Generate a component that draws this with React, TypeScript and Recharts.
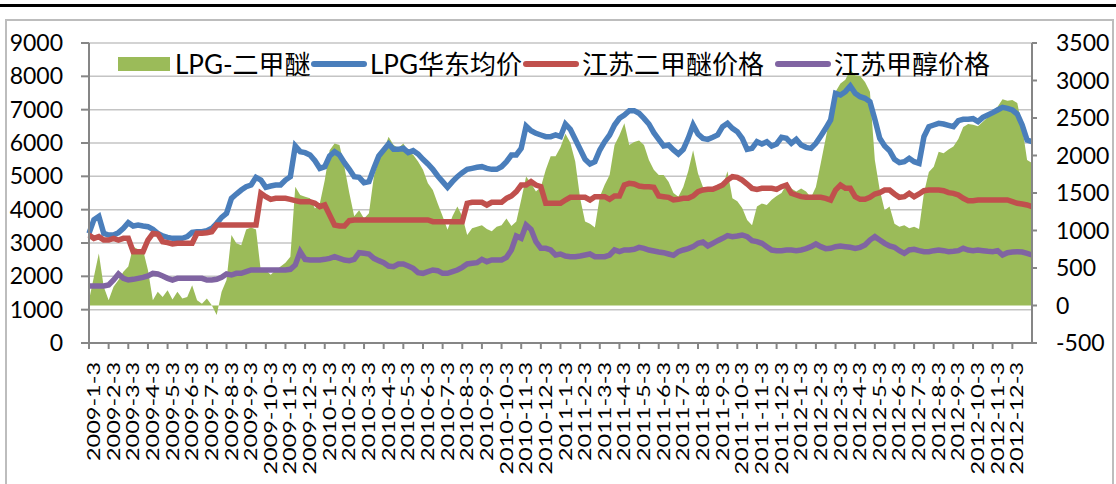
import React from "react";
import { ComposedChart, Area, Line, XAxis, YAxis, CartesianGrid, Legend } from "recharts";

// month labels on the x axis (one per 4 weekly points)
const monthLabels = [
  "2009-1-3", "2009-2-3", "2009-3-3", "2009-4-3", "2009-5-3", "2009-6-3", "2009-7-3", "2009-8-3", "2009-9-3", "2009-10-3", "2009-11-3", "2009-12-3",
  "2010-1-3", "2010-2-3", "2010-3-3", "2010-4-3", "2010-5-3", "2010-6-3", "2010-7-3", "2010-8-3", "2010-9-3", "2010-10-3", "2010-11-3", "2010-12-3",
  "2011-1-3", "2011-2-3", "2011-3-3", "2011-4-3", "2011-5-3", "2011-6-3", "2011-7-3", "2011-8-3", "2011-9-3", "2011-10-3", "2011-11-3", "2011-12-3",
  "2012-1-3", "2012-2-3", "2012-3-3", "2012-4-3", "2012-5-3", "2012-6-3", "2012-7-3", "2012-8-3", "2012-9-3", "2012-10-3", "2012-11-3", "2012-12-3",
];

const seriesNames = ["LPG-二甲醚", "LPG华东均价", "江苏二甲醚价格", "江苏甲醇价格"];

// LPG华东均价 (left axis)
const lpgEast = [
  3290, 3700, 3800, 3290, 3240, 3240, 3310, 3440, 3610, 3510, 3540, 3510, 3490, 3410, 3290, 3210,
  3170, 3140, 3140, 3140, 3190, 3320, 3340, 3340, 3370, 3440, 3590, 3770, 3890, 4340, 4470, 4590,
  4690, 4740, 4970, 4890, 4670, 4710, 4740, 4740, 4890, 4990, 5910, 5740, 5710, 5640, 5470, 5240,
  5290, 5610, 5740, 5640, 5410, 5210, 4990, 4970, 4810, 4840, 5240, 5610, 5790, 5970, 5810, 5810,
  5840, 5710, 5770, 5670, 5510, 5370, 5210, 5010, 4840, 4670, 4840, 4990, 5110, 5210, 5240, 5270,
  5290, 5240, 5210, 5210, 5290, 5440, 5640, 5640, 5840, 6510, 6370, 6290, 6240, 6190, 6190, 6240,
  6190, 6570, 6410, 6110, 5810, 5510, 5370, 5440, 5790, 6040, 6240, 6540, 6740, 6840, 6970, 6970,
  6890, 6740, 6570, 6310, 6110, 5910, 5940, 5790, 5670, 5810, 6140, 6540, 6270, 6140, 6110, 6170,
  6240, 6490, 6590, 6440, 6340, 6140, 5810, 5840, 6040, 5970, 6040, 5910, 5970, 6170, 6140, 5990,
  6110, 5940, 5870, 5840, 5990, 6210, 6440, 6690, 7490, 7440, 7540, 7710, 7490, 7390, 7340, 7240,
  6710, 6140, 5910, 5770, 5510, 5410, 5440, 5540, 5440, 5390, 6190, 6490, 6540, 6590, 6570, 6530,
  6490, 6670, 6710, 6710, 6730, 6640, 6770, 6840, 6910, 6990, 7070, 7040, 6990, 6870, 6540, 6090,
  6040,
];

// 江苏二甲醚价格 (left axis)
const dmeJiangsu = [
  3240, 3140, 3190, 3090, 3090, 3140, 3090, 3140, 3140, 2740, 2740, 2740, 3090, 3290, 3270, 3040,
  3010, 2970, 2990, 2990, 2990, 2990, 3290, 3290, 3310, 3340, 3540, 3540, 3540, 3540, 3540, 3540,
  3540, 3540, 3540, 4490, 4390, 4310, 4340, 4340, 4340, 4310, 4270, 4240, 4240, 4240, 4190, 4090,
  4140, 3840, 3540, 3510, 3510, 3670, 3690, 3690, 3690, 3690, 3690, 3690, 3690, 3690, 3690, 3690,
  3690, 3690, 3690, 3690, 3690, 3690, 3640, 3640, 3640, 3640, 3640, 3640, 3640, 4190, 4220, 4220,
  4220, 4140, 4220, 4220, 4220, 4340, 4410, 4540, 4740, 4740, 4840, 4740, 4690, 4190, 4190, 4190,
  4190, 4290, 4370, 4370, 4370, 4370, 4290, 4390, 4390, 4390, 4310, 4410, 4410, 4740, 4790, 4770,
  4710, 4690, 4690, 4670, 4410, 4390, 4370, 4290, 4310, 4340, 4340, 4410, 4540, 4590, 4610, 4610,
  4670, 4740, 4890, 4990, 4970, 4890, 4770, 4640, 4610, 4640, 4640, 4640, 4610, 4690, 4740, 4490,
  4440, 4390, 4370, 4370, 4370, 4370, 4340, 4290, 4590, 4740, 4640, 4640, 4390, 4310, 4310, 4370,
  4470, 4510, 4590, 4590, 4470, 4370, 4390, 4490, 4390, 4470, 4570, 4590, 4590, 4590, 4570, 4510,
  4490, 4440, 4340, 4270, 4270, 4290, 4290, 4290, 4290, 4290, 4290, 4290, 4240, 4190, 4170, 4140,
  4090,
];

// 江苏甲醇价格 (left axis)
const methanolJiangsu = [
  1710, 1710, 1710, 1710, 1740, 1890, 2070, 1940, 1890, 1910, 1940, 1970, 2010, 2090, 2070, 2010,
  1940, 1890, 1940, 1940, 1940, 1940, 1940, 1940, 1890, 1890, 1910, 1970, 2070, 2040, 2090, 2090,
  2140, 2190, 2190, 2190, 2190, 2190, 2190, 2190, 2190, 2210, 2340, 2740, 2510, 2490, 2490, 2490,
  2510, 2540, 2590, 2540, 2490, 2470, 2510, 2710, 2690, 2670, 2540, 2470, 2410, 2310, 2290, 2370,
  2370, 2310, 2240, 2110, 2090, 2140, 2190, 2170, 2090, 2090, 2140, 2190, 2270, 2370, 2390, 2410,
  2510, 2440, 2490, 2490, 2490, 2570, 2790, 3210, 3140, 3540, 3410, 3040, 2840, 2840, 2790, 2640,
  2670, 2610, 2590, 2590, 2610, 2640, 2670, 2590, 2590, 2590, 2640, 2790, 2740, 2790, 2790, 2810,
  2870, 2840, 2790, 2760, 2730, 2710, 2670, 2630, 2740, 2790, 2830, 2890, 2990, 3030, 2910, 2990,
  3070, 3140, 3220, 3190, 3210, 3240, 3190, 3070, 3040, 2990, 2890, 2790, 2770, 2770, 2790, 2790,
  2770, 2790, 2830, 2890, 2970, 2890, 2830, 2840, 2890, 2910, 2890, 2870, 2840, 2870, 2940, 3090,
  3190, 3090, 2990, 2910, 2870, 2770, 2690, 2790, 2810, 2770, 2740, 2740, 2770, 2790, 2770, 2740,
  2750, 2770, 2840, 2790, 2770, 2790, 2770, 2750, 2740, 2770, 2640, 2710, 2730, 2740, 2730, 2690,
  2640,
];

// LPG-二甲醚 spread (right axis)
const spread = [
  70, 385, 695, 250, 70, 250, 340, 450, 520, 785, 750, 740, 475, 70, 185, 115,
  205, 80, 185, 95, 115, 270, 70, 25, 95, 5, -125, 185, 340, 940, 830, 805,
  1015, 1040, 1015, 450, 470, 410, 470, 520, 570, 650, 1585, 1475, 1450, 1430, 1295, 1360,
  1670, 2070, 2160, 2140, 1850, 1500, 1190, 1270, 1160, 1230, 1720, 1940, 2070, 2250, 2140, 2100,
  2160, 2050, 2010, 1920, 1810, 1630, 1540, 1360, 1190, 1010, 1190, 1320, 1190, 940, 1030, 1050,
  1070, 1020, 990, 1050, 1070, 1160, 1060, 1120, 1410, 1720, 1630, 1520, 1580, 1810, 1990, 1990,
  2110, 2290, 2170, 1920, 1430, 1120, 1090, 1040, 1450, 1610, 1740, 2140, 2270, 2430, 2140, 2180,
  2200, 2140, 1940, 1810, 1740, 1740, 1650, 1500, 1450, 1580, 1790, 2070, 1760, 1580, 1520, 1560,
  1560, 1580, 1790, 1430, 1390, 1300, 1140, 1070, 1320, 1360, 1340, 1410, 1460, 1500, 1610, 1560,
  1520, 1560, 1520, 1440, 1580, 1900, 2230, 2560, 2850, 2960, 3010, 3140, 3070, 3060, 2980, 2850,
  1940, 1540, 1270, 1320, 1090, 1050, 1070, 1030, 1050, 1020, 1500, 1780, 1850, 2050, 2030, 2080,
  2120, 2220, 2380, 2420, 2410, 2390, 2450, 2510, 2600, 2650, 2750, 2730, 2740, 2700, 2380, 1940,
  1900,
];

const leftTicks = [0, 1000, 2000, 3000, 4000, 5000, 6000, 7000, 8000, 9000];
const rightTicks = [-500, 0, 500, 1000, 1500, 2000, 2500, 3000, 3500];

const GREEN = "#9BBB59";
const BLUE = "#4A7EBB";
const RED = "#C0504D";
const PURPLE = "#8064A2";
const AXIS = "#868686";
const FONT = "Lato, 'Noto Sans CJK SC', sans-serif";

// legend item left edges, relative to the legend box
const legendLefts = [0, 193, 405, 657];

const data = lpgEast.map((v, i) => ({
  i,
  spread: spread[i],
  lpg: v,
  dme: dmeJiangsu[i],
  meoh: methanolJiangsu[i],
}));

const monthTicks = monthLabels.map((_, k) => k * 4);

function MonthTick(props: any) {
  const { x, y, payload } = props;
  const label = monthLabels[Math.round(payload.value / 4)];
  if (!label) return null;
  return (
    <text
      transform={`translate(${x + 11},${y}) rotate(-90) scale(1.38,1)`}
      textAnchor="end"
      fontSize={17}
      fontFamily={FONT}
      fill="#000"
    >
      {label}
    </text>
  );
}

function LegendRow() {
  const colors = [GREEN, BLUE, RED, PURPLE];
  return (
    <div style={{ position: "relative", width: 900, height: 32, fontFamily: FONT, fontSize: 26, color: "#000", whiteSpace: "nowrap", lineHeight: "32px" }}>
      {seriesNames.map((name, k) => (
        <div key={name} style={{ position: "absolute", left: legendLefts[k], top: 0, display: "flex", alignItems: "center", height: 32 }}>
          {k === 0 ? (
            <div style={{ width: 52, height: 14, background: colors[k], marginRight: 5 }} />
          ) : (
            <div style={{ width: 56, height: 6, borderRadius: 3, background: colors[k], marginRight: 3 }} />
          )}
          <span>{name}</span>
        </div>
      ))}
    </div>
  );
}

export default function App() {
  return (
    <div style={{ position: "absolute", left: 0, top: 0, width: 1116, height: 484, background: "#fff", overflow: "hidden" }}>
      <div style={{ position: "absolute", left: 0, top: 4, width: 1116, height: 3, background: "#000" }} />
      <div style={{ position: "absolute", left: 5, top: 19, width: 1105, height: 480, border: "2px solid #bdbdbd" }} />
      <div style={{ position: "absolute", left: 0, top: 0 }}>
        <ComposedChart width={1116} height={484} data={data} margin={{ top: 43, right: 4, bottom: 21, left: 9 }}>
          <CartesianGrid yAxisId="left" vertical={false} stroke="#c4c4c4" strokeWidth={1.5} />
          <XAxis
            dataKey="i"
            type="number"
            domain={[0, 192]}
            ticks={monthTicks}
            interval={0}
            height={120}
            tick={<MonthTick />}
            tickSize={6}
            tickMargin={13}
            stroke={AXIS}
            strokeWidth={2}
            allowDecimals={false}
          />
          <YAxis
            yAxisId="left"
            domain={[0, 9000]}
            ticks={leftTicks}
            interval={0}
            width={80}
            tickSize={8}
            tickMargin={18}
            stroke={AXIS}
            strokeWidth={2}
            tick={{ fill: "#000", fontSize: 23, fontFamily: FONT }}
          />
          <YAxis
            yAxisId="right"
            orientation="right"
            domain={[-500, 3500]}
            ticks={rightTicks}
            interval={0}
            width={80}
            tickSize={5}
            tickMargin={19}
            stroke={AXIS}
            strokeWidth={2}
            tick={{ fill: "#000", fontSize: 23, fontFamily: FONT, textAnchor: "start" }}
          />
          <Legend
            verticalAlign="middle"
            align="center"
            layout="horizontal"
            content={() => <LegendRow />}
            wrapperStyle={{ left: 118, top: 48, width: 900, height: 32 }}
          />
          <Area
            yAxisId="right"
            dataKey="spread"
            name={seriesNames[0]}
            type="linear"
            stroke="none"
            fill={GREEN}
            fillOpacity={1}
            isAnimationActive={false}
          />
          <Line yAxisId="left" dataKey="lpg" name={seriesNames[1]} type="linear" stroke={BLUE} strokeWidth={5.5} dot={false} isAnimationActive={false} />
          <Line yAxisId="left" dataKey="dme" name={seriesNames[2]} type="linear" stroke={RED} strokeWidth={5.5} dot={false} isAnimationActive={false} />
          <Line yAxisId="left" dataKey="meoh" name={seriesNames[3]} type="linear" stroke={PURPLE} strokeWidth={5.5} dot={false} isAnimationActive={false} />
        </ComposedChart>
      </div>
    </div>
  );
}
